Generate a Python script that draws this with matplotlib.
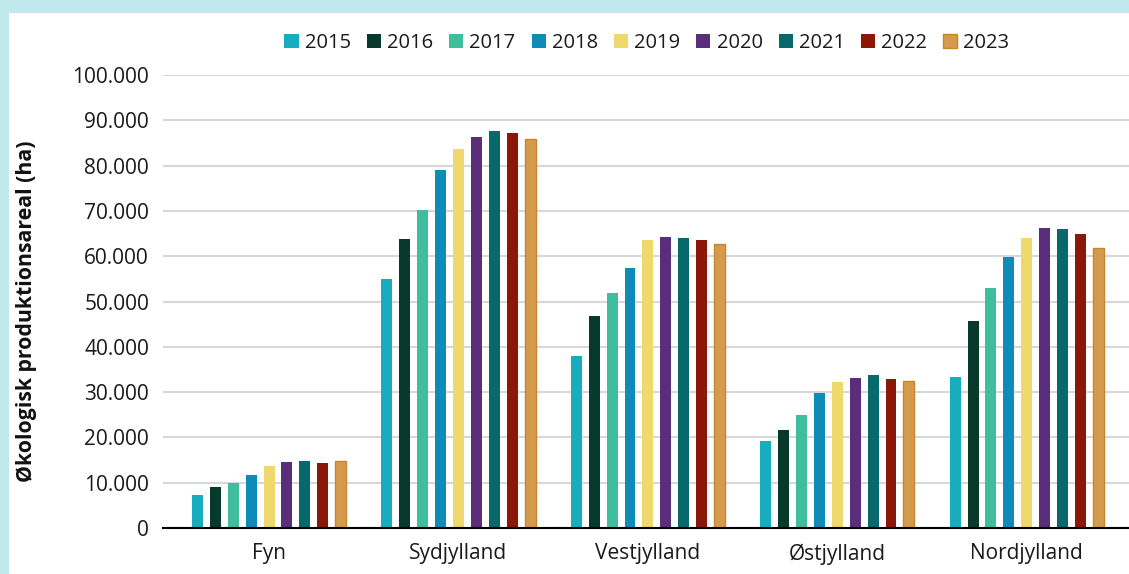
import numpy as np
import matplotlib.pyplot as plt
from matplotlib.patches import Rectangle
from matplotlib.ticker import FuncFormatter

plt.rcParams['font.family'] = ['Open Sans', 'DejaVu Sans']

regions = ["Fyn", "Sydjylland", "Vestjylland", "Østjylland", "Nordjylland"]
years = ["2015", "2016", "2017", "2018", "2019", "2020", "2021", "2022", "2023"]

# areal i ha, en liste pr. region (2015-2023)
fyn = [7300, 9000, 9900, 11800, 13700, 14600, 14700, 14300, 14900]
sydjylland = [55000, 63700, 70100, 79000, 83700, 86300, 87600, 87300, 85800]
vestjylland = [38000, 46800, 51900, 57400, 63600, 64200, 64000, 63600, 62700]
ostjylland = [19100, 21700, 25000, 29700, 32200, 33100, 33700, 32800, 32500]
nordjylland = [33300, 45700, 53000, 59800, 64000, 66200, 66000, 64900, 61800]

colors = ["#17adbe", "#083a2b", "#3fbe9d", "#0e8cb7", "#efd96d",
          "#5a2e7a", "#07696b", "#8a1708", "#d59a4b"]

data = np.array([fyn, sydjylland, vestjylland, ostjylland, nordjylland])

fig = plt.figure(figsize=(11.29, 5.74), dpi=100)
fig.patch.set_facecolor("#c0e8ed")
# hvidt panel
fig.patches.append(Rectangle((9 / 1129, 0), 1, 1 - 13 / 574,
                             transform=fig.transFigure, facecolor="white",
                             edgecolor="none", zorder=-1))

ax = fig.add_axes([163 / 1129, 1 - 528 / 574, 1 - 163 / 1129, (528 - 75) / 574])
ax.set_facecolor("none")
ax.set_zorder(2)

x = np.arange(len(regions))
pitch = 0.0945
width = 0.058
for i, year in enumerate(years):
    edge = "#c8862a" if year == "2023" else "none"
    ax.bar(x + (i - 4) * pitch, data[:, i], width=width, color=colors[i],
           edgecolor=edge, linewidth=1, label=year, zorder=3)

ax.set_ylim(0, 100000)
ax.set_xlim(-0.56, 4.54)
ax.set_yticks(range(0, 100001, 10000))
ax.yaxis.set_major_formatter(FuncFormatter(lambda v, p: f"{int(v):,}".replace(",", ".")))
ax.set_xticks(x)
ax.set_xticklabels(regions)
ax.tick_params(axis="both", length=0, labelsize=15, colors="#1a1a1a")
ax.tick_params(axis="y", pad=10)
ax.tick_params(axis="x", pad=11)

ax.grid(axis="y", color="#d8d8d8", linewidth=1.5, zorder=0)
for s in ["top", "right", "left"]:
    ax.spines[s].set_visible(False)
ax.spines["bottom"].set_color("black")
ax.spines["bottom"].set_linewidth(1.5)
ax.spines["bottom"].set_zorder(4)

fig.text(27 / 1129, 1 - 311 / 574, "Økologisk produktionsareal (ha)", rotation=90,
         ha="center", va="center", fontsize=15.3, fontweight="bold", color="#111111")

leg = fig.legend(loc="center", bbox_to_anchor=(647 / 1129, 1 - 43 / 574), ncol=9,
                 frameon=False, fontsize=14.5, handlelength=0.7, handleheight=0.7,
                 handletextpad=0.3, columnspacing=0.8, borderaxespad=0)
for t in leg.get_texts():
    t.set_color("#1a1a1a")

fig.savefig("out.png", dpi=100)
